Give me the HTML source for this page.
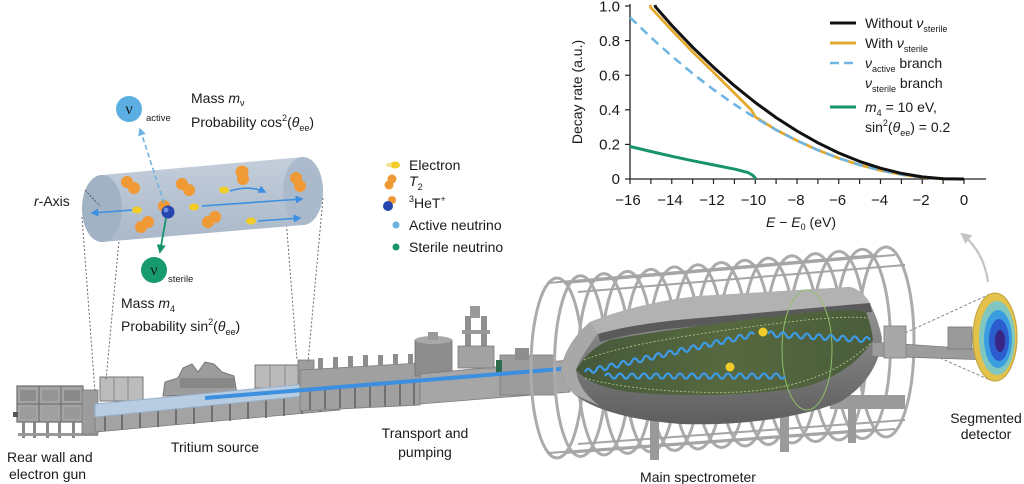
<!DOCTYPE html>
<html><head><meta charset="utf-8"><style>
html,body{margin:0;padding:0;background:#fff;}
svg{display:block;}
text{font-family:"Liberation Sans",Arial,sans-serif;fill:#1a1a1a;}
</style></head><body>
<svg width="1024" height="484" viewBox="0 0 1024 484" xmlns="http://www.w3.org/2000/svg">
<defs>
<marker id="ab" viewBox="0 0 10 10" refX="8" refY="5" markerWidth="5" markerHeight="5" orient="auto"><path d="M0,0 L10,5 L0,10 Z" fill="#3d8fe0"/></marker>
<marker id="alb" viewBox="0 0 10 10" refX="8" refY="5" markerWidth="5" markerHeight="5" orient="auto"><path d="M0,0 L10,5 L0,10 Z" fill="#6fb3e0"/></marker>
<marker id="ag" viewBox="0 0 10 10" refX="8" refY="5" markerWidth="5" markerHeight="5" orient="auto"><path d="M0,0 L10,5 L0,10 Z" fill="#17936d"/></marker>
<marker id="agr" viewBox="0 0 10 10" refX="8" refY="5" markerWidth="5" markerHeight="5" orient="auto"><path d="M0,0 L10,5 L0,10 Z" fill="#c4c4c4"/></marker>
<linearGradient id="hull" x1="0" y1="0" x2="0" y2="1"><stop offset="0" stop-color="#9a9a9a"/><stop offset="1" stop-color="#5e5e5e"/></linearGradient>
<linearGradient id="grn" x1="0" y1="0" x2="1" y2="0"><stop offset="0" stop-color="#45583a"/><stop offset="0.5" stop-color="#56693f"/><stop offset="1" stop-color="#4a5d3c"/></linearGradient>
<linearGradient id="cyl" x1="0" y1="0" x2="0" y2="1"><stop offset="0" stop-color="#c4cedb"/><stop offset="1" stop-color="#aab8c9"/></linearGradient>
</defs>

<!-- ================= PLOT ================= -->
<g>
<line x1="630" y1="4" x2="630" y2="179" stroke="#222" stroke-width="1.3"/>
<line x1="630" y1="179" x2="986" y2="179" stroke="#222" stroke-width="1.3"/>
<g stroke="#222" stroke-width="1.2">
<line x1="625" y1="179" x2="630" y2="179"/><line x1="625" y1="144.4" x2="630" y2="144.4"/><line x1="625" y1="109.8" x2="630" y2="109.8"/><line x1="625" y1="75.2" x2="630" y2="75.2"/><line x1="625" y1="40.6" x2="630" y2="40.6"/><line x1="625" y1="6" x2="630" y2="6"/>
<line x1="630" y1="179" x2="630" y2="184"/><line x1="650.9" y1="179" x2="650.9" y2="184"/><line x1="671.75" y1="179" x2="671.75" y2="184"/><line x1="692.6" y1="179" x2="692.6" y2="184"/><line x1="713.5" y1="179" x2="713.5" y2="184"/><line x1="734.4" y1="179" x2="734.4" y2="184"/><line x1="755.25" y1="179" x2="755.25" y2="184"/><line x1="776.1" y1="179" x2="776.1" y2="184"/><line x1="797" y1="179" x2="797" y2="184"/><line x1="817.9" y1="179" x2="817.9" y2="184"/><line x1="838.75" y1="179" x2="838.75" y2="184"/><line x1="859.6" y1="179" x2="859.6" y2="184"/><line x1="880.5" y1="179" x2="880.5" y2="184"/><line x1="901.4" y1="179" x2="901.4" y2="184"/><line x1="922.25" y1="179" x2="922.25" y2="184"/><line x1="943.1" y1="179" x2="943.1" y2="184"/><line x1="964" y1="179" x2="964" y2="184"/>
</g>
<g font-size="15" text-anchor="end">
<text x="620" y="184">0</text><text x="620" y="149.5">0.2</text><text x="620" y="115">0.4</text><text x="620" y="80.5">0.6</text><text x="620" y="46">0.8</text><text x="620" y="11.5">1.0</text>
</g>
<g font-size="15" text-anchor="middle">
<text x="628" y="205">−16</text><text x="670" y="205">−14</text><text x="712" y="205">−12</text><text x="753.5" y="205">−10</text><text x="796" y="205">−8</text><text x="837.5" y="205">−6</text><text x="879.5" y="205">−4</text><text x="921" y="205">−2</text><text x="964" y="205">0</text>
</g>
<text x="801" y="227" font-size="14" text-anchor="middle"><tspan font-style="italic">E</tspan> − <tspan font-style="italic">E</tspan><tspan font-size="9" dy="3">0</tspan><tspan dy="-3"> (eV)</tspan></text>
<text transform="translate(582,92) rotate(-90)" font-size="14" text-anchor="middle">Decay rate (a.u.)</text>

<!-- curves -->
<path d="M630,146.5 L651,151.5 L672,156.3 L693,160.8 L714,165 L735,169.2 L748,172.5 L753,175.5 L756,179" fill="none" stroke="#17936d" stroke-width="3"/>
<path d="M650,5 L650.9,7.7 L671.75,30.2 L692.6,51.9 L713.5,72.3 L734.4,93.1 L751.1,109.7 L755.25,116.8 L776.1,129.9 L797,140.6 L817.9,150.1 L838.75,158.2 L859.6,164.9 L880.5,170.4 L901.4,174.5 L922.25,177.3 L943.1,178.8 L964,179" fill="none" stroke="#e3a82e" stroke-width="2.8" stroke-linejoin="round"/>
<path d="M630,17.3 L650.9,37.4 L671.75,56.1 L692.6,73.5 L713.5,89.6 L734.4,104.4 L755.25,117.8 L776.1,129.9 L797,140.6 L817.9,150.1 L838.75,158.2 L859.6,164.9 L880.5,170.4 L901.4,174.5 L922.25,177.3 L943.1,178.8 L964,179" fill="none" stroke="#6fb5e3" stroke-width="2.6" stroke-dasharray="9,6"/>
<path d="M655,5 L655.5,6.8 L671.75,25.4 L692.6,47.2 L713.5,67.2 L734.4,85.7 L755.25,102.5 L776.1,117.6 L797,131 L817.9,142.8 L838.75,153 L859.6,161.4 L880.5,168.2 L901.4,173.4 L922.25,176.9 L943.1,178.7 L964,179" fill="none" stroke="#111" stroke-width="3" stroke-linejoin="round"/>

<!-- legend -->
<line x1="830" y1="23" x2="856" y2="23" stroke="#111" stroke-width="3"/>
<line x1="830" y1="43" x2="856" y2="43" stroke="#e3a82e" stroke-width="3"/>
<line x1="830" y1="63" x2="856" y2="63" stroke="#6fb5e3" stroke-width="2.6" stroke-dasharray="9,5"/>
<line x1="830" y1="107" x2="856" y2="107" stroke="#17936d" stroke-width="3"/>
<g font-size="14">
<text x="865" y="28">Without <tspan font-style="italic">ν</tspan><tspan font-size="9" dy="4">sterile</tspan></text>
<text x="865" y="48">With <tspan font-style="italic">ν</tspan><tspan font-size="9" dy="4">sterile</tspan></text>
<text x="865" y="68"><tspan font-style="italic">ν</tspan><tspan font-size="9" dy="4">active</tspan><tspan dy="-4"> branch</tspan></text>
<text x="865" y="88"><tspan font-style="italic">ν</tspan><tspan font-size="9" dy="4">sterile</tspan><tspan dy="-4"> branch</tspan></text>
<text x="865" y="112"><tspan font-style="italic">m</tspan><tspan font-size="9" dy="4">4</tspan><tspan dy="-4"> = 10 eV,</tspan></text>
<text x="865" y="132">sin<tspan font-size="9" dy="-6">2</tspan><tspan dy="6">(</tspan><tspan font-style="italic">θ</tspan><tspan font-size="9" dy="4">ee</tspan><tspan dy="-4">) = 0.2</tspan></text>
</g>
</g>

<!-- gray curved arrow -->
<path d="M988,282 Q984,252 962,234" fill="none" stroke="#c4c4c4" stroke-width="2.2" marker-end="url(#agr)"/>

<!-- ================= MACHINERY ================= -->
<g>
<!-- rear wall unit -->
<rect x="17" y="386" width="66" height="36" fill="#a4a4a4" stroke="#6a6a6a" stroke-width="1.2"/>
<line x1="39" y1="386" x2="39" y2="422" stroke="#666"/><line x1="61" y1="386" x2="61" y2="422" stroke="#666"/>
<line x1="17" y1="404" x2="83" y2="404" stroke="#666"/>
<rect x="20" y="390" width="16" height="11" fill="#8d8d8d"/><rect x="42" y="390" width="16" height="11" fill="#959595"/><rect x="64" y="390" width="16" height="11" fill="#8a8a8a"/>
<rect x="20" y="407" width="16" height="12" fill="#9c9c9c"/><rect x="42" y="407" width="16" height="12" fill="#a0a0a0"/><rect x="64" y="407" width="16" height="12" fill="#999"/>
<g fill="#888"><rect x="22" y="422" width="3" height="16"/><rect x="33" y="422" width="3" height="16"/><rect x="46" y="422" width="3" height="16"/><rect x="58" y="422" width="3" height="16"/><rect x="72" y="422" width="3" height="16"/></g>
<rect x="18" y="433" width="80" height="3" fill="#999"/>
<rect x="13" y="412" width="5" height="5" fill="#555"/>
<rect x="82" y="390" width="16" height="44" fill="#9c9c9c" stroke="#777" stroke-width="0.8"/>
<!-- tritium bench -->
<polygon points="95,405 340,385 340,410 95,432" fill="#a3a3a3" stroke="#7a7a7a" stroke-width="0.8"/>
<g stroke="#6f6f6f" stroke-width="2">
<line x1="105" y1="413" x2="105" y2="431"/><line x1="122" y1="412" x2="122" y2="430"/><line x1="140" y1="410" x2="140" y2="428"/><line x1="158" y1="409" x2="158" y2="427"/><line x1="176" y1="407" x2="176" y2="425"/><line x1="194" y1="406" x2="194" y2="424"/><line x1="212" y1="404" x2="212" y2="422"/><line x1="230" y1="403" x2="230" y2="421"/><line x1="248" y1="401" x2="248" y2="419"/><line x1="266" y1="400" x2="266" y2="418"/><line x1="284" y1="398" x2="284" y2="416"/><line x1="302" y1="396" x2="302" y2="414"/><line x1="320" y1="394" x2="320" y2="412"/>
</g>
<rect x="100" y="377" width="43" height="24" fill="#bcbcbc" stroke="#777" stroke-width="1"/>
<line x1="114" y1="377" x2="114" y2="401" stroke="#888"/><line x1="128" y1="377" x2="128" y2="401" stroke="#888"/>
<path d="M163,396 L165,382 L178,378 L183,368 L192,364 L198,372 L205,362 L214,364 L222,372 L234,376 L237,394 Z" fill="#9c9c9c" stroke="#777" stroke-width="1"/>
<rect x="180" y="378" width="54" height="10" fill="#878787"/>
<rect x="255" y="365" width="45" height="23" fill="#bababa" stroke="#777" stroke-width="1"/>
<line x1="270" y1="365" x2="270" y2="388" stroke="#888"/><line x1="285" y1="365" x2="285" y2="388" stroke="#888"/>
<rect x="298" y="360" width="16" height="34" fill="#9d9d9d" stroke="#777" stroke-width="0.8"/>
<!-- tube -->
<polygon points="95,404 305,384 305,396 95,417" fill="#b9cde2" stroke="#98b0ca" stroke-width="1"/>
<!-- transport bench -->
<polygon points="300,370 420,363 420,405 300,411" fill="#a0a0a0" stroke="#7a7a7a" stroke-width="0.8"/>
<g fill="#8e8e8e"><rect x="318" y="358" width="5" height="12"/><rect x="333" y="357" width="5" height="12"/><rect x="348" y="356" width="5" height="12"/><rect x="363" y="355" width="5" height="12"/><rect x="378" y="355" width="5" height="11"/><rect x="393" y="354" width="5" height="11"/><rect x="408" y="354" width="5" height="10"/></g>
<g stroke="#707070" stroke-width="2"><line x1="310" y1="390" x2="310" y2="410"/><line x1="325" y1="389" x2="325" y2="409"/><line x1="340" y1="388" x2="340" y2="408"/><line x1="355" y1="387" x2="355" y2="408"/><line x1="370" y1="386" x2="370" y2="407"/><line x1="385" y1="385" x2="385" y2="406"/><line x1="400" y1="384" x2="400" y2="406"/><line x1="414" y1="383" x2="414" y2="405"/></g>
<!-- tank + tall -->
<rect x="415" y="340" width="37" height="36" fill="#8d8d8d" stroke="#707070" stroke-width="0.8"/>
<ellipse cx="433.5" cy="340" rx="18.5" ry="4" fill="#a8a8a8"/>
<rect x="428" y="332" width="10" height="8" fill="#999"/>
<polygon points="420,374 570,360 570,392 420,404" fill="#a6a6a6" stroke="#7c7c7c" stroke-width="0.8"/>
<rect x="465" y="316" width="6" height="50" fill="#909090"/><rect x="481" y="316" width="6" height="50" fill="#909090"/>
<rect x="462" y="330" width="28" height="4" fill="#999"/><rect x="470" y="306" width="10" height="12" fill="#9a9a9a"/>
<rect x="458" y="346" width="36" height="22" fill="#a2a2a2" stroke="#7a7a7a" stroke-width="0.8"/>
<rect x="500" y="355" width="55" height="40" fill="#9c9c9c" stroke="#787878" stroke-width="0.8"/>
<rect x="496" y="360" width="6" height="16" fill="#2d6b4f"/>
<rect x="515" y="348" width="14" height="12" fill="#8e8e8e"/>
</g>

<!-- beam -->
<line x1="205" y1="398" x2="585" y2="367" stroke="#3d8fe0" stroke-width="4" marker-end="url(#ab)"/>

<!-- ================= SPECTROMETER ================= -->
<g fill="none" stroke="#ababab" stroke-width="3">
<ellipse cx="557" cy="368" rx="26" ry="90"/>
<ellipse cx="580.5" cy="366.1" rx="26" ry="90.4"/>
<ellipse cx="604" cy="364.3" rx="26" ry="90.7"/>
<ellipse cx="627.5" cy="362.4" rx="26" ry="91"/>
<ellipse cx="651" cy="360.6" rx="26.5" ry="91.4"/>
<ellipse cx="674.5" cy="358.7" rx="26.5" ry="91.8"/>
<ellipse cx="698" cy="356.9" rx="26.5" ry="92.1"/>
<ellipse cx="721.5" cy="355" rx="27" ry="92.5"/>
<ellipse cx="745" cy="353.1" rx="27" ry="92.9"/>
<ellipse cx="768.5" cy="351.3" rx="27" ry="93.2"/>
<ellipse cx="792" cy="349.4" rx="27.5" ry="93.6"/>
<ellipse cx="815.5" cy="347.6" rx="27.5" ry="94"/>
<ellipse cx="839" cy="345.7" rx="27.5" ry="94.3"/>
<ellipse cx="862.5" cy="343.9" rx="28" ry="94.7"/>
<ellipse cx="886" cy="342" rx="28" ry="95"/>
</g>
<g stroke="#a5a5a5" stroke-width="2">
<line x1="565" y1="283" x2="895" y2="255"/><line x1="578" y1="292" x2="905" y2="265"/><line x1="548" y1="283" x2="877" y2="255"/>
<line x1="565" y1="453" x2="895" y2="429"/><line x1="548" y1="453" x2="877" y2="429"/><line x1="578" y1="444" x2="905" y2="420"/>
</g>
<!-- supports -->
<g fill="#9a9a9a"><rect x="650" y="415" width="9" height="45"/><rect x="780" y="410" width="9" height="42"/><rect x="848" y="398" width="8" height="45"/><rect x="830" y="395" width="75" height="14"/></g>
<!-- hull -->
<path d="M561,368 C565,350 575,335 590,322 C620,310 660,300 700,296 L850,287 C865,290 876,310 882,338 C880,362 868,385 840,402 C800,418 740,426 680,424 C630,420 595,410 575,395 C566,386 562,378 561,368 Z" fill="url(#hull)"/>
<path d="M561,368 C565,350 575,335 590,322 L600,330 C590,345 580,358 576,370 C578,385 586,396 600,406 L575,395 C566,386 562,378 561,368 Z" fill="#a8a8a8"/>
<!-- top light rim -->
<path d="M590,322 C620,310 660,300 700,296 L850,287 C860,290 866,296 870,303 L700,318 C650,322 620,328 598,334 Z" fill="#b2b2b2"/>
<path d="M598,334 C620,328 650,322 700,318 L870,303 L872,312 L700,326 C650,330 620,336 600,342 Z" fill="#5a5a5a"/>
<!-- green interior -->
<path d="M576,370 C585,356 595,346 610,340 C650,332 700,326 760,318 C810,312 850,308 866,312 C870,322 872,332 873,340 C862,358 840,378 800,388 C745,396 680,397 630,392 C602,388 586,381 576,370 Z" fill="url(#grn)"/>
<path d="M584,360 C620,345 700,333 780,323 C820,318 850,316 868,318" fill="none" stroke="#b9d08a" stroke-width="0.8" stroke-dasharray="2,2"/>
<path d="M585,378 C620,388 680,394 740,392 C800,388 840,372 872,342" fill="none" stroke="#b9d08a" stroke-width="0.8" stroke-dasharray="2,2"/>
<ellipse cx="807" cy="350" rx="25" ry="60" fill="none" stroke="#8fbf6a" stroke-width="1"/>
<!-- waves -->
<g fill="none" stroke="#3d9be8" stroke-width="2.2">
<path d="M585,372 q2.9,-5.65 5.83,-1.3 t5.83,-1.3 t5.83,-1.3 t5.83,-1.3 t5.83,-1.3 t5.83,-1.3 t5.83,-1.3 t5.83,-1.3 t5.83,-1.3 t5.83,-1.3 t5.83,-1.3 t5.83,-1.3 t5.83,-1.3 t5.83,-1.3 t5.83,-1.3 t5.83,-1.3 t5.83,-1.3 t5.83,-1.3 t5.83,-1.3 t5.83,-1.3 t5.83,-1.3 t5.83,-1.3 t5.83,-1.3 t5.83,-1.3 t5.83,-1.3 t5.83,-1.3 t5.83,-1.3 t5.83,-1.3 t5.83,-1.3"/>
<path d="M768,334 q3,-5 6,0.35 t6,0.35 t6,0.35 t6,0.35 t6,0.35 t6,0.35 t6,0.35 t6,0.35 t6,0.35 t6,0.35 t6,0.35 t6,0.35 t6,0.35 t6,0.35 t6,0.35 t6,0.35 t6,0.35"/>
<path d="M605,376 q3,-5 6,0 t6,0 t6,0 t6,0 t6,0 t6,0 t6,0 t6,0 t6,0 t6,0 t6,0 t6,0 t6,0 t6,0 t6,0 t6,0 t6,0 t6,0 t6,0 t6,0 t6,0 t6,0 t6,0 t6,0 t6,0 t6,0 t6,0 t6,0 t6,0 t6,0"/>
</g>
<circle cx="763" cy="332" r="4.5" fill="#f2cd2a"/>
<circle cx="730" cy="367" r="4.5" fill="#f2cd2a"/>

<!-- right side to detector -->
<polygon points="872,342 990,350 990,360 872,356" fill="#9c9c9c" stroke="#7a7a7a" stroke-width="0.8"/>
<rect x="884" y="326" width="22" height="32" fill="#a8a8a8" stroke="#7a7a7a" stroke-width="0.8"/>
<rect x="948" y="327" width="24" height="22" fill="#9a9a9a" stroke="#777" stroke-width="0.8"/>
<line x1="905" y1="333" x2="990" y2="294" stroke="#888" stroke-width="1" stroke-dasharray="3,2"/>
<line x1="940" y1="358" x2="990" y2="380" stroke="#888" stroke-width="1" stroke-dasharray="3,2"/>
<!-- detector -->
<ellipse cx="995" cy="337" rx="22" ry="44" fill="#e2c24a" stroke="#bfa040" stroke-width="1"/>
<ellipse cx="997" cy="338" rx="18" ry="37" fill="#7fc7c0"/>
<ellipse cx="998" cy="339" rx="14" ry="29" fill="#3a9de0"/>
<ellipse cx="999" cy="340" rx="10" ry="21" fill="#2c5dcf"/>
<ellipse cx="1000" cy="341" rx="5" ry="11" fill="#3a2585"/>

<!-- ================= CYLINDER INSET ================= -->
<g stroke="#666" stroke-width="1" stroke-dasharray="2,2" fill="none">
<line x1="82" y1="217" x2="95" y2="392"/>
<line x1="120" y1="230" x2="106" y2="380"/>
<line x1="285" y1="205" x2="297" y2="360"/>
<line x1="323" y1="198" x2="308" y2="362"/>
</g>
<path d="M102,175 L303,157 A20,34 0 0 1 303,225 L102,242 A20,33.5 0 0 1 102,175 Z" fill="url(#cyl)"/>
<ellipse cx="102" cy="208.5" rx="20" ry="33.5" fill="#a2b2c5"/>
<ellipse cx="303" cy="191" rx="20" ry="34" fill="#a9b8ca" opacity="0.9"/>
<line x1="85" y1="190" x2="100" y2="206" stroke="#444" stroke-width="0.8" stroke-dasharray="2,1.5"/>
<!-- arrows -->
<g stroke="#3d8fe0" stroke-width="1.6" fill="none">
<line x1="133" y1="210" x2="92" y2="213" marker-end="url(#ab)"/>
<line x1="202" y1="206" x2="302" y2="199" marker-end="url(#ab)"/>
<path d="M230,191 Q250,185 265,192" marker-end="url(#ab)"/>
<line x1="258" y1="221" x2="300" y2="218" marker-end="url(#ab)"/>
</g>
<!-- electrons -->
<g fill="#f2cd2a"><ellipse cx="137" cy="210" rx="5" ry="3.5"/><ellipse cx="194" cy="207" rx="5" ry="3.5"/><ellipse cx="224" cy="190" rx="5" ry="3.5"/><ellipse cx="251" cy="221" rx="5" ry="3.5"/></g>
<!-- T2 molecules -->
<g fill="#ef9a35">
<circle cx="127" cy="182" r="6"/><circle cx="134" cy="188" r="6"/>
<circle cx="182" cy="184" r="6"/><circle cx="189" cy="190" r="6"/>
<circle cx="242" cy="172" r="6.5"/><circle cx="243" cy="179" r="6"/>
<circle cx="296" cy="178" r="6"/><circle cx="300" cy="186" r="6"/>
<circle cx="141" cy="227" r="6"/><circle cx="148" cy="222" r="6"/>
<circle cx="208" cy="222" r="6"/><circle cx="215" cy="217" r="6"/>
<circle cx="164" cy="206" r="6"/>
</g>
<circle cx="168" cy="212" r="6.5" fill="#2546b0"/>
<circle cx="166" cy="210" r="2.5" fill="#6f8fe0"/>
<!-- neutrino arrows -->
<line x1="164" y1="203" x2="140" y2="129" stroke="#6fb3e0" stroke-width="1.6" stroke-dasharray="5,3" marker-end="url(#alb)"/>
<line x1="166" y1="218" x2="160" y2="252" stroke="#17936d" stroke-width="1.8" marker-end="url(#ag)"/>
<circle cx="129" cy="109" r="13" fill="#5aaee2"/>
<text x="129" y="114" font-size="16" text-anchor="middle" style="font-family:'Liberation Serif',serif">ν</text>
<text x="146" y="121" font-size="9.5">active</text>
<circle cx="154" cy="270" r="13" fill="#179a6f"/>
<text x="154" y="275" font-size="16" text-anchor="middle" style="font-family:'Liberation Serif',serif">ν</text>
<text x="168" y="282" font-size="9.5">sterile</text>

<g font-size="14">
<text x="191" y="103">Mass <tspan font-style="italic">m</tspan><tspan font-size="9" dy="3">ν</tspan></text>
<text x="191" y="127">Probability cos<tspan font-size="9" dy="-6">2</tspan><tspan dy="6">(</tspan><tspan font-style="italic">θ</tspan><tspan font-size="9" dy="4">ee</tspan><tspan dy="-4">)</tspan></text>
<text x="121" y="308">Mass <tspan font-style="italic">m</tspan><tspan font-size="9" dy="4">4</tspan></text>
<text x="121" y="331">Probability sin<tspan font-size="9" dy="-6">2</tspan><tspan dy="6">(</tspan><tspan font-style="italic">θ</tspan><tspan font-size="9" dy="4">ee</tspan><tspan dy="-4">)</tspan></text>
<text x="34" y="206"><tspan font-style="italic">r</tspan>-Axis</text>
</g>

<!-- particle legend -->
<ellipse cx="395" cy="165" rx="5" ry="3.5" fill="#f2cd2a"/>
<ellipse cx="389" cy="165" rx="3" ry="2" fill="#f7e08a"/>
<circle cx="392" cy="179" r="4.5" fill="#ef9a35"/><circle cx="389" cy="185" r="4.5" fill="#ef9a35"/>
<circle cx="392" cy="200" r="4" fill="#ef9a35"/><circle cx="388" cy="206" r="5" fill="#2546b0"/>
<circle cx="396" cy="225" r="3.5" fill="#6ab0e0"/>
<circle cx="396" cy="247" r="3.5" fill="#17936d"/>
<g font-size="14">
<text x="409" y="170">Electron</text>
<text x="409" y="186"><tspan font-style="italic">T</tspan><tspan font-size="9" dy="4">2</tspan></text>
<text x="409" y="208"><tspan font-size="9" dy="-6">3</tspan><tspan dy="6">HeT</tspan><tspan font-size="9" dy="-6">+</tspan></text>
<text x="409" y="230">Active neutrino</text>
<text x="409" y="252">Sterile neutrino</text>
</g>

<!-- bottom labels -->
<g font-size="14">
<text x="7" y="462">Rear wall and</text>
<text x="9" y="479">electron gun</text>
<text x="215" y="452" text-anchor="middle">Tritium source</text>
<text x="425" y="438" text-anchor="middle">Transport and</text>
<text x="425" y="457" text-anchor="middle">pumping</text>
<text x="698" y="482" text-anchor="middle">Main spectrometer</text>
<text x="986" y="423" text-anchor="middle">Segmented</text>
<text x="986" y="439" text-anchor="middle">detector</text>
</g>
</svg>
</body></html>
